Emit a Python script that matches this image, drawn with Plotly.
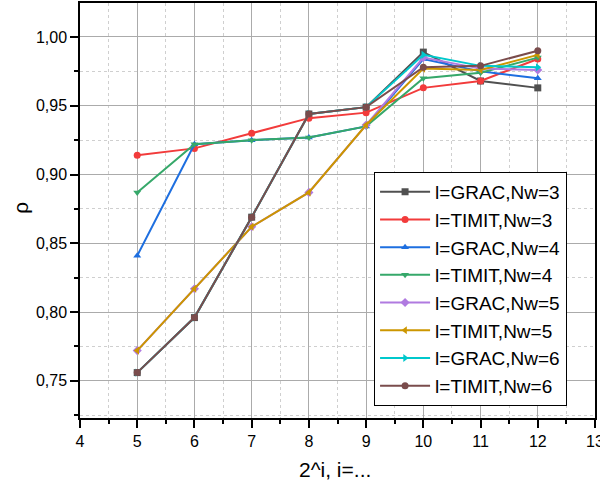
import plotly.graph_objects as go

x_vals = [5, 6, 7, 8, 9, 10, 11, 12]

series_names = ["l=GRAC,Nw=3", "l=TIMIT,Nw=3", "l=GRAC,Nw=4", "l=TIMIT,Nw=4",
                "l=GRAC,Nw=5", "l=TIMIT,Nw=5", "l=GRAC,Nw=6", "l=TIMIT,Nw=6"]

grac_nw3 = [0.756, 0.796, 0.869, 0.944, 0.949, 0.989, 0.968, 0.963]
timit_nw3 = [0.914, 0.919, 0.930, 0.941, 0.945, 0.963, 0.968, 0.984]
grac_nw4 = [0.841, 0.922, 0.925, 0.927, 0.935, 0.984, 0.975, 0.970]
timit_nw4 = [0.887, 0.922, 0.925, 0.927, 0.935, 0.970, 0.974, 0.985]
grac_nw5 = [0.772, 0.817, 0.862, 0.887, 0.936, 0.985, 0.977, 0.976]
timit_nw5 = [0.772, 0.817, 0.862, 0.887, 0.936, 0.977, 0.976, 0.987]
grac_nw6 = [0.756, 0.796, 0.869, 0.944, 0.949, 0.987, 0.979, 0.978]
timit_nw6 = [0.756, 0.796, 0.869, 0.944, 0.949, 0.978, 0.979, 0.990]

series_values = [grac_nw3, timit_nw3, grac_nw4, timit_nw4,
                 grac_nw5, timit_nw5, grac_nw6, timit_nw6]

colors = ["#505050", "#F23B3B", "#1E6FE0", "#36A86A",
          "#B07AE0", "#CC9600", "#00C8CC", "#7A4C4C"]
symbols = ["square", "circle", "triangle-up", "triangle-down",
           "diamond", "triangle-left", "triangle-right", "circle"]

y_tick_vals = [0.75, 0.80, 0.85, 0.90, 0.95, 1.00]
y_tick_text = ["0,75", "0,80", "0,85", "0,90", "0,95", "1,00"]
x_tick_vals = [4, 5, 6, 7, 8, 9, 10, 11, 12, 13]

x_title = "2^i, i=..."
y_title = "ρ"

fig = go.Figure()
for name, vals, c, s in zip(series_names, series_values, colors, symbols):
    fig.add_trace(go.Scatter(
        x=x_vals, y=vals, name=name, mode="lines+markers",
        line=dict(color=c, width=2),
        marker=dict(symbol=s, size=7, color=c),
    ))

font_family = "Liberation Sans, Arial, sans-serif"

fig.update_layout(
    width=600, height=486,
    margin=dict(l=80, r=5, t=3, b=68),
    plot_bgcolor="white", paper_bgcolor="white",
    font=dict(family=font_family, color="black", size=16),
    showlegend=True,
    legend=dict(
        x=0.571, y=0.593, xanchor="left", yanchor="top",
        bgcolor="white", bordercolor="black", borderwidth=1,
        font=dict(size=19, family=font_family),
        tracegroupgap=0, itemwidth=50,
    ),
    xaxis=dict(
        range=[4, 13], tickvals=x_tick_vals, automargin=False,
        ticklabeloverflow="allow",
        showline=True, linecolor="black", linewidth=1.5, mirror=True,
        ticks="outside", ticklen=8, tickcolor="black", tickwidth=1.5,
        showgrid=True, gridcolor="#ababab", gridwidth=1, zeroline=False,
        minor=dict(dtick=0.5, showgrid=True, gridcolor="#cfcfcf", griddash="dot",
                   ticks="outside", ticklen=4, tickcolor="black"),
        tickfont=dict(size=16),
    ),
    yaxis=dict(
        range=[0.723, 1.0247], tickvals=y_tick_vals, ticktext=y_tick_text, automargin=False,
        ticklabeloverflow="allow",
        showline=True, linecolor="black", linewidth=1.5, mirror=True,
        ticks="outside", ticklen=8, tickcolor="black", tickwidth=1.5,
        showgrid=True, gridcolor="#ababab", gridwidth=1, zeroline=False,
        minor=dict(dtick=0.025, tick0=0.75, showgrid=True, gridcolor="#cfcfcf", griddash="dot",
                   ticks="outside", ticklen=4, tickcolor="black"),
        tickfont=dict(size=16),
    ),
    annotations=[
        dict(text=x_title, xref="paper", yref="paper", x=0.495, y=-0.123,
             xanchor="center", yanchor="middle", showarrow=False,
             font=dict(size=21)),
        dict(text=y_title, xref="paper", yref="paper", x=-0.117, y=0.506,
             xanchor="center", yanchor="middle", showarrow=False, textangle=-90,
             font=dict(size=21)),
    ],
)

fig.write_html("out.html", config={"displayModeBar": False},
               post_script="document.body.style.margin='0';")
